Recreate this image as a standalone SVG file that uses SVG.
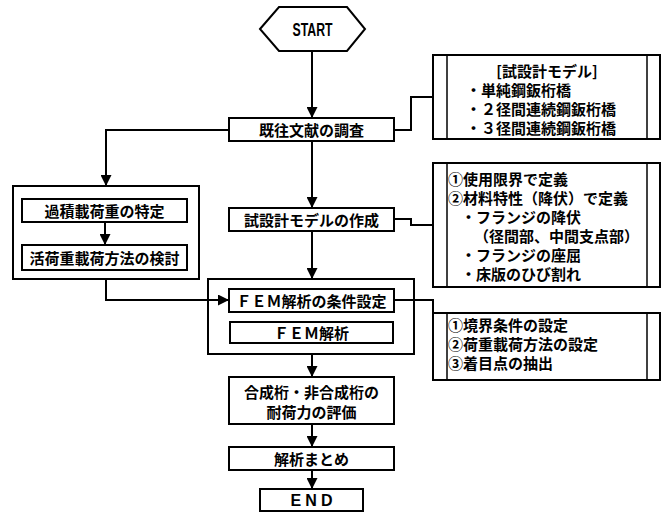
<svg xmlns="http://www.w3.org/2000/svg" width="670" height="517" viewBox="0 0 670 517">
<defs>
<style>
.box{fill:#fff;stroke:#000;stroke-width:2}
.frame{fill:none;stroke:#000;stroke-width:2}
.inner{fill:none;stroke:#000;stroke-width:1.5}
.conn{fill:none;stroke:#000;stroke-width:2}
.t{font-family:"Noto Sans CJK JP","Noto Sans CJK SC",sans-serif;font-size:15px;font-weight:bold;fill:#000;dominant-baseline:central}
.c{text-anchor:middle}
.lat{font-family:"Liberation Sans",Arial,sans-serif;font-weight:bold;fill:#000;text-anchor:middle;dominant-baseline:central}
</style>
<marker id="arr" markerUnits="userSpaceOnUse" markerWidth="11" markerHeight="11" viewBox="0 0 10 10" refX="10" refY="5" orient="auto">
<path d="M0,0 L10,5 L0,10 z" fill="#000"/>
</marker>
</defs>
<rect width="670" height="517" fill="#fff"/>

<g id="connectors">
<path class="conn" d="M312,51 V118" marker-end="url(#arr)"/>
<path class="conn" d="M394,130 H411 V97 H433"/>
<path class="conn" d="M229,130 H106 V186" marker-end="url(#arr)"/>
<path class="conn" d="M105,222 V245" marker-end="url(#arr)"/>
<path class="conn" d="M106,279 V300 H229" marker-end="url(#arr)"/>
<path class="conn" d="M312,141 V208" marker-end="url(#arr)"/>
<path class="conn" d="M394,219 H411 V225 H433"/>
<path class="conn" d="M312,231 V279" marker-end="url(#arr)"/>
<path class="conn" d="M394,300 H433 V313"/>
<path class="conn" d="M312,354 V377" marker-end="url(#arr)"/>
<path class="conn" d="M312,424 V447" marker-end="url(#arr)"/>
<path class="conn" d="M312,470 V489" marker-end="url(#arr)"/>
</g>

<g id="start">
<polygon class="box" points="260,29 279,7 347,7 365,29 347,51 279,51"/>
<text class="lat" x="312.5" y="29.5" font-size="18" textLength="40" lengthAdjust="spacingAndGlyphs">START</text>
</g>

<g id="survey">
<rect class="box" x="229" y="118" width="165" height="23"/>
<text class="t c" x="311.5" y="129.5">既往文献の調査</text>
</g>

<g id="trial-models">
<rect class="box" x="433" y="55" width="227" height="84"/>
<line class="inner" x1="447" y1="55" x2="447" y2="139"/>
<line class="inner" x1="647" y1="55" x2="647" y2="139"/>
<text class="t c" x="547" y="70">[試設計モデル]</text>
<text class="t" x="466" y="89">・単純鋼鈑桁橋</text>
<text class="t" x="466" y="108">・２径間連続鋼鈑桁橋</text>
<text class="t" x="466" y="127">・３径間連続鋼鈑桁橋</text>
</g>

<g id="load-group">
<rect class="frame" x="13" y="186" width="186" height="93"/>
</g>

<g id="overload">
<rect class="box" x="22" y="199" width="165" height="23"/>
<text class="t c" x="104.5" y="210.5">過積載荷重の特定</text>
</g>

<g id="live-load">
<rect class="box" x="22" y="245" width="165" height="25"/>
<text class="t c" x="104.5" y="257.5">活荷重載荷方法の検討</text>
</g>

<g id="model-creation">
<rect class="box" x="229" y="208" width="165" height="23"/>
<text class="t c" x="311.5" y="219.5">試設計モデルの作成</text>
</g>

<g id="limit-definition">
<rect class="box" x="433" y="163" width="227" height="124"/>
<line class="inner" x1="447" y1="163" x2="447" y2="287"/>
<line class="inner" x1="647" y1="163" x2="647" y2="287"/>
<text class="t" x="448" y="178">①使用限界で定義</text>
<text class="t" x="448" y="197">②材料特性（降伏）で定義</text>
<text class="t" x="461" y="216">・フランジの降伏</text>
<text class="t" x="474" y="235">（径間部、中間支点部）</text>
<text class="t" x="461" y="254">・フランジの座屈</text>
<text class="t" x="461" y="273">・床版のひび割れ</text>
</g>

<g id="fem-group">
<rect class="frame" x="208" y="279" width="206" height="75"/>
</g>

<g id="fem-conditions">
<rect class="box" x="229" y="289" width="165" height="23"/>
<text class="t c" x="311.5" y="300.5">ＦＥＭ解析の条件設定</text>
</g>

<g id="fem-analysis">
<rect class="box" x="230" y="322" width="163" height="21"/>
<text class="t c" x="311.5" y="332.5">ＦＥＭ解析</text>
</g>

<g id="condition-items">
<rect class="box" x="433" y="313" width="227" height="67"/>
<line class="inner" x1="447" y1="313" x2="447" y2="380"/>
<line class="inner" x1="647" y1="313" x2="647" y2="380"/>
<text class="t" x="448" y="324">①境界条件の設定</text>
<text class="t" x="448" y="343">②荷重載荷方法の設定</text>
<text class="t" x="448" y="362">③着目点の抽出</text>
</g>

<g id="evaluation">
<rect class="box" x="229" y="377" width="165" height="47"/>
<text class="t c" x="311.5" y="391">合成桁・非合成桁の</text>
<text class="t c" x="311.5" y="411">耐荷力の評価</text>
</g>

<g id="summary">
<rect class="box" x="229" y="447" width="165" height="23"/>
<text class="t c" x="311.5" y="458.5">解析まとめ</text>
</g>

<g id="end">
<rect class="box" x="260" y="489" width="103" height="22"/>
<text class="lat" x="311.5" y="500" font-size="16" textLength="42" lengthAdjust="spacing">END</text>
</g>
</svg>
